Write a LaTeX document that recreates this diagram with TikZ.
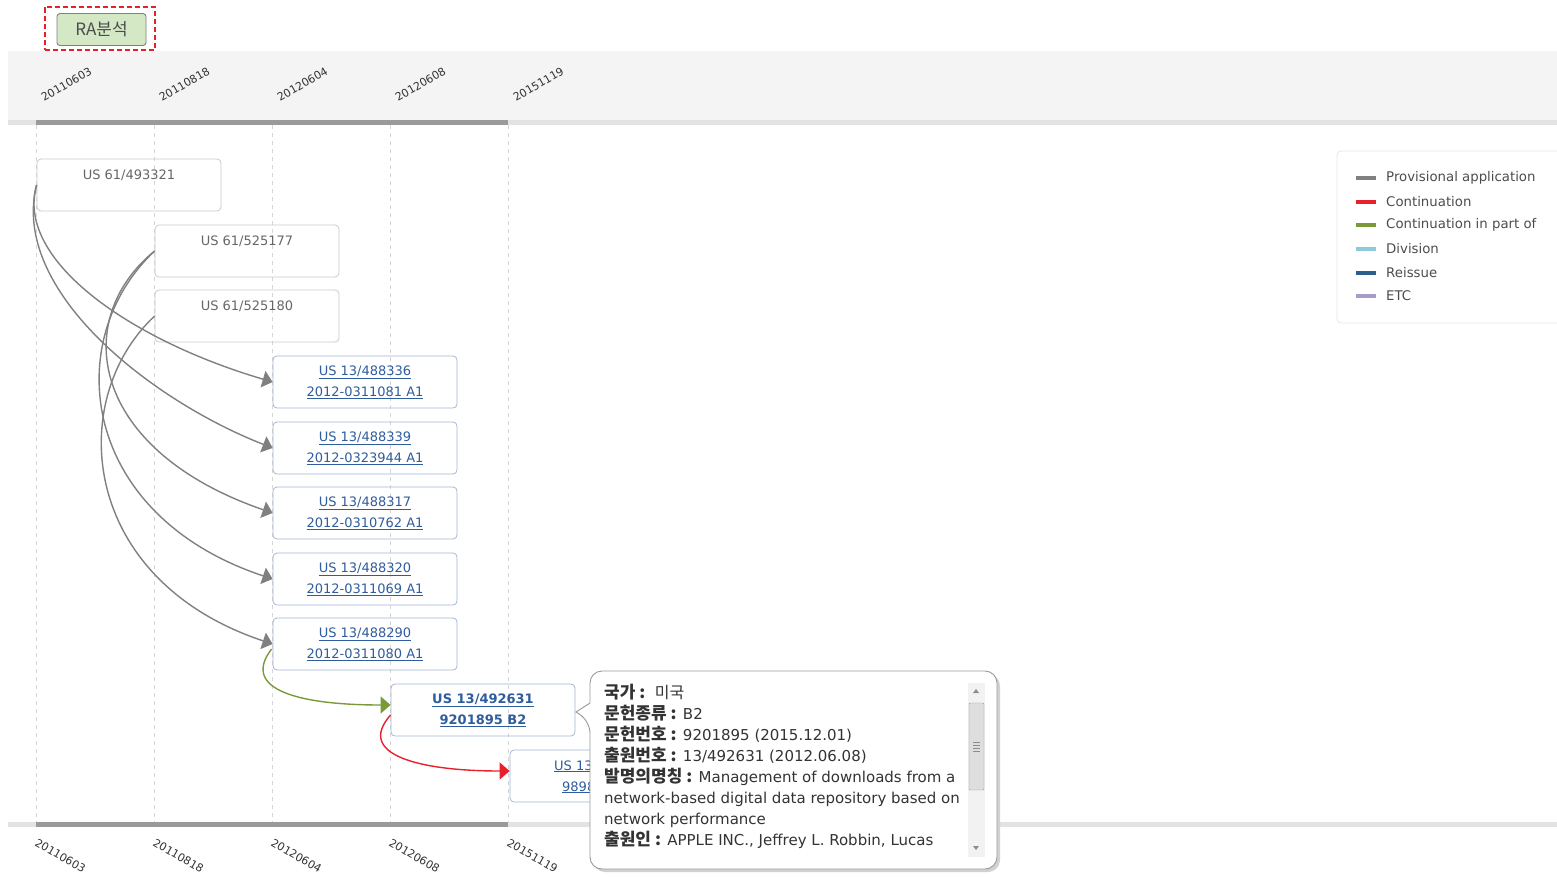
\documentclass[tikz,border=0pt]{standalone}
\usepackage{fontspec}
\setmainfont{DejaVu Sans}
\newfontfamily\krfont{Noto Sans CJK KR}
\usetikzlibrary{arrows.meta,calc}
\definecolor{gridc}{HTML}{D6D6D6}
\definecolor{bandc}{HTML}{F4F4F4}
\definecolor{stripc}{HTML}{E3E3E3}
\definecolor{barc}{HTML}{9A9A9A}
\definecolor{provc}{HTML}{808080}
\definecolor{contc}{HTML}{E8202A}
\definecolor{cipc}{HTML}{7A9A3A}
\definecolor{divc}{HTML}{8CCBDC}
\definecolor{reic}{HTML}{2E5E8E}
\definecolor{etcc}{HTML}{A89CC8}
\definecolor{gbord}{HTML}{C8C8C8}
\definecolor{gtext}{HTML}{666666}
\definecolor{bbord}{HTML}{A4B4D4}
\definecolor{btext}{HTML}{2F5C9C}
\definecolor{poptext}{HTML}{333333}
\definecolor{btnfill}{HTML}{D5E8C6}
\begin{document}
\begin{tikzpicture}[x=1pt,y=-1pt,
  gbox/.style={draw=gbord, line width=0.8pt, rounded corners=4pt, minimum width=184pt, minimum height=52pt, inner sep=0pt, align=center, text=gtext, font=\fontsize{13}{21}\selectfont},
  bbox/.style={gbox, draw=bbord, text=btext},
  datetop/.style={rotate=30, anchor=base west, inner sep=0pt, font=\fontsize{11}{12}\selectfont, text=black!80},
  datebot/.style={rotate=-30, anchor=base west, inner sep=0pt, font=\fontsize{11}{12}\selectfont, text=black!80},
  gridline/.style={draw=gridc, line width=0.7pt, dash pattern=on 4pt off 4pt},
  provarrow/.style={draw=provc, line width=1.4pt, -{Triangle[length=10pt,width=17pt]}},
  cipar/.style={draw=cipc, line width=1.4pt, -{Triangle[length=10pt,width=17pt]}},
  contar/.style={draw=contc, line width=1.4pt, -{Triangle[length=10pt,width=17pt]}},
  swatch/.style={line width=4pt},
  legtext/.style={anchor=west, inner sep=0pt, font=\fontsize{13.3}{15}\selectfont, text=black!70},
  btxt/.style={anchor=base west, inner sep=0pt, text=btext, font=\fontsize{13}{21}\selectfont},
  krb/.style={}
]
\useasboundingbox (0,0) rectangle (1557,878);

% RA button
\node[draw=contc, line width=2pt, dash pattern=on 5pt off 3pt, minimum width=110pt, minimum height=43pt, inner sep=0pt] (rabox) at (99.5,28) {};
\node[draw=black!50, line width=0.9pt, fill=btnfill, rounded corners=3pt, minimum width=89pt, minimum height=32pt, inner sep=0pt, font=\krfont\fontsize{17}{18}\selectfont, text=black!70] (rabtn) at (101.5,29.5) {RA분석};

% top band
\fill[bandc] (8,51) rectangle (1557,120);
\fill[stripc] (8,120) rectangle (1557,125);
\fill[barc] (36,120) rectangle (508,125);
% bottom strip
\fill[stripc] (8,822) rectangle (1557,827);
\fill[barc] (36,822) rectangle (508,827);

% grid lines and dates
\foreach \gx/\d [count=\i] in {36/20110603,154/20110818,272/20120604,390/20120608,508/20151119}{
  \draw[gridline] (\gx,125) -- (\gx,822);
  \node[datetop] (dt\i) at (\gx+8,102) {\d};
  \node[datebot] (db\i) at (\gx-2,845) {\d};
}

% provisional boxes
\node[gbox] (p1) at (129,185) {US 61/493321\\\mbox{}};
\node[gbox] (p2) at (247,251) {US 61/525177\\\mbox{}};
\node[gbox] (p3) at (247,316) {US 61/525180\\\mbox{}};

% application boxes
\node[bbox] (b1) at (365,382) {\underline{US 13/488336}\\\underline{2012-0311081 A1}};
\node[bbox] (b2) at (365,448) {\underline{US 13/488339}\\\underline{2012-0323944 A1}};
\node[bbox] (b3) at (365,513) {\underline{US 13/488317}\\\underline{2012-0310762 A1}};
\node[bbox] (b4) at (365,579) {\underline{US 13/488320}\\\underline{2012-0311069 A1}};
\node[bbox] (b5) at (365,644) {\underline{US 13/488290}\\\underline{2012-0311080 A1}};
\node[bbox, font=\bfseries\fontsize{13}{21}\selectfont] (c) at (483,710) {\underline{US 13/492631}\\\underline{9201895 B2}};
\node[bbox] (d) at (602,776) {};
\node[btxt] (dtxt1) at (554,770) {\underline{US 13}};
\node[btxt] (dtxt2) at (562,791) {\underline{9898}};

% provisional connectors
\draw[provarrow] (p1.west) .. controls (15,260) and (130,340) .. (b1.west);
\draw[provarrow] (p1.west) .. controls (10,290) and (150,400) .. (b2.west);
\draw[provarrow] (p2.west) .. controls (70,320) and (90,450) .. (b3.west);
\draw[provarrow] (p2.west) .. controls (60,340) and (80,515) .. (b4.west);
\draw[provarrow] (p3.west) .. controls (65,400) and (80,580) .. (b5.west);

% CIP and continuation
\draw[cipar] ($(b5.west)+(-1,5)$) .. controls (240,690) and (300,705) .. ($(c.west)+(0,-5)$);
\draw[contar] ($(c.west)+(0,5)$) .. controls (355,755) and (420,771) .. ($(d.west)+(0,-5)$);

% popup
\fill[black!18, rounded corners=12pt] (593,674) rectangle (1000,872);
\draw[draw=black!40, fill=white, line width=0.9pt] (590,703) [rounded corners=12pt] -- (590,671) -- (997,671) -- (997,869) -- (590,869) -- (590,721) [sharp corners] -- (576,712) -- cycle;
\node[anchor=north west, inner sep=0pt, align=left, text=poptext, font=\fontsize{15}{21}\selectfont] (poptext) at (604,684) {%
{\krfont\bfseries\fontsize{17}{21}\selectfont 국가 :}\ \ {\krfont\fontsize{16}{21}\selectfont 미국}\\
{\krfont\bfseries\fontsize{17}{21}\selectfont 문헌종류 :} B2\\
{\krfont\bfseries\fontsize{17}{21}\selectfont 문헌번호 :} 9201895 (2015.12.01)\\
{\krfont\bfseries\fontsize{17}{21}\selectfont 출원번호 :} 13/492631 (2012.06.08)\\
{\krfont\bfseries\fontsize{17}{21}\selectfont 발명의명칭 :} Management of downloads from a\\
network-based digital data repository based on\\
network performance\\
{\krfont\bfseries\fontsize{17}{21}\selectfont 출원인 :} APPLE INC., Jeffrey L. Robbin, Lucas};
% scrollbar
\fill[black!5] (968,683) rectangle (985,857);
\fill[black!45] (973,693) -- (979,693) -- (976,689) -- cycle;
\fill[black!45] (973,846) -- (979,846) -- (976,850) -- cycle;
\draw[black!40, fill=black!13, rounded corners=1pt] (969,703) rectangle (984,790);
\foreach \yy in {742,745,748,751} \draw[black!45, line width=0.6pt] (973,\yy) -- (980,\yy);

% legend
\draw[draw=black!10, line width=0.8pt, rounded corners=4pt] (1337,151) rectangle (1570,323);
\foreach \yy/\cc/\tt [count=\i] in {178/provc/Provisional application,202/contc/Continuation,225/cipc/Continuation in part of,249/divc/Division,273/reic/Reissue,296/etcc/ETC}{
  \draw[swatch, \cc] (1356,\yy) -- (1376,\yy);
  \node[legtext] (leg\i) at (1386,\yy) {\tt};
}
\end{tikzpicture}
\end{document}
